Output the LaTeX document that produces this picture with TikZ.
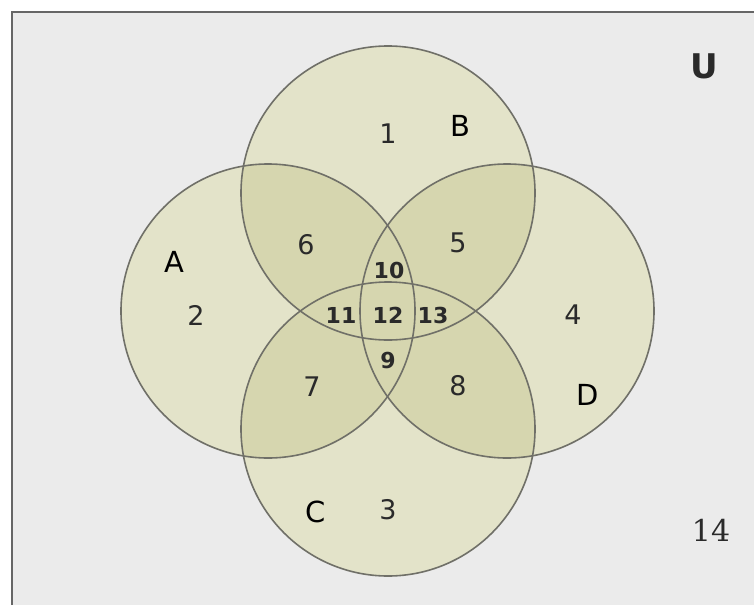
\documentclass[tikz,border=0pt]{standalone}
\usepackage{fontspec}
\setmainfont{DejaVu Sans}
\newfontfamily\serifnum{DejaVu Serif}
\definecolor{bgc}{HTML}{EBEBEB}
\definecolor{onec}{HTML}{E3E3C9}
\definecolor{twoc}{HTML}{D6D6AF}
\definecolor{edgec}{HTML}{707068}
\definecolor{txtc}{HTML}{2A2A2A}
\begin{document}
\begin{tikzpicture}[x=1pt,y=-1pt,
  lab/.style={font=\fontsize{29}{31}\selectfont, text=black, inner sep=0pt},
  num/.style={font=\fontsize{27}{29}\selectfont, text=txtc, inner sep=0pt},
  mid/.style={font=\bfseries\fontsize{22}{24}\selectfont, text=txtc, inner sep=0pt},
  ring/.style={draw=edgec, line width=1.6pt}]
\useasboundingbox (0,0) rectangle (754,605);
\fill[white] (0,0) rectangle (754,605);
\fill[bgc] (12,12) rectangle (754,605);
\draw[draw=gray!80!black, line width=2pt] (12,605) -- (12,12) -- (754,12);
% circles
\coordinate (cA) at (268,311);
\coordinate (cB) at (388,193);
\coordinate (cD) at (507,311);
\coordinate (cC) at (388,429);
\def\R{147}
\foreach \c in {cA,cB,cC,cD} \fill[onec] (\c) circle (\R);
\foreach \p/\q in {cA/cB,cB/cD,cA/cC,cC/cD,cA/cD,cB/cC}{
  \begin{scope}
    \clip (\p) circle (\R);
    \fill[twoc] (\q) circle (\R);
  \end{scope}
}
\foreach \c in {cA,cB,cC,cD} \draw[ring] (\c) circle (\R);
% labels
\node[lab, font=\bfseries\fontsize{34}{36}\selectfont, text=txtc] (U) at (704,66) {U};
\node[num] (n1) at (388,134) {1};
\node[lab] (B) at (460,126) {B};
\node[num] (n6) at (306,245) {6};
\node[num] (n5) at (458,243) {5};
\node[lab] (A) at (174,262) {A};
\node[num] (n2) at (196,315) {2};
\node[mid] (n10) at (389,270) {10};
\node[mid] (n11) at (341,315) {11};
\node[mid] (n12) at (388,315) {12};
\node[mid] (n13) at (433,315) {13};
\node[num] (n4) at (573,315) {4};
\node[mid] (n9) at (388,360) {9};
\node[num] (n7) at (312,387) {7};
\node[num] (n8) at (458,386) {8};
\node[lab] (D) at (588,395) {D};
\node[lab] (C) at (316,512) {C};
\node[num] (n3) at (388,510) {3};
\node[num, font=\serifnum\fontsize{30}{32}\selectfont] (n14) at (711,530) {14};
\end{tikzpicture}
\end{document}
